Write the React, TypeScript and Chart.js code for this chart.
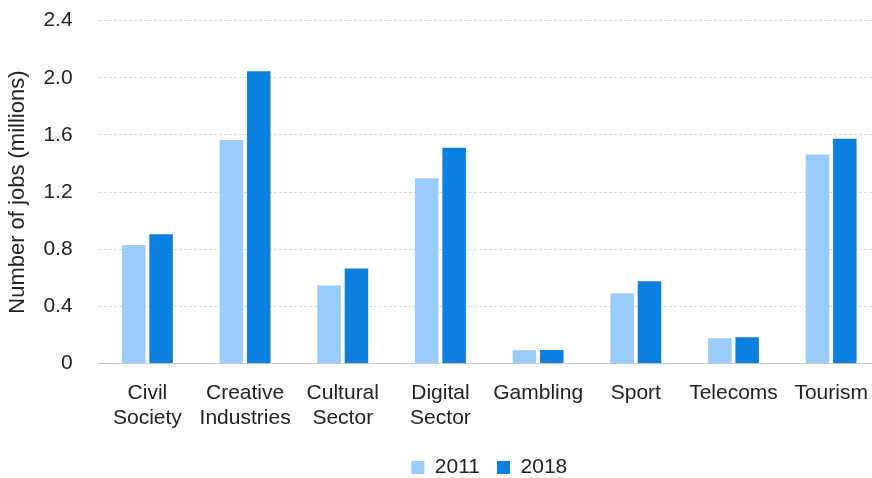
import React, { useEffect, useRef } from "react";
import { Chart, registerables } from "chart.js";

Chart.register(...registerables);

const categories: string[][] = [
  ["Civil", "Society"],
  ["Creative", "Industries"],
  ["Cultural", "Sector"],
  ["Digital", "Sector"],
  ["Gambling"],
  ["Sport"],
  ["Telecoms"],
  ["Tourism"],
];
const series2011: number[] = [0.83, 1.565, 0.546, 1.297, 0.093, 0.492, 0.177, 1.463];
const series2018: number[] = [0.905, 2.045, 0.665, 1.51, 0.096, 0.576, 0.184, 1.573];
const seriesNames: string[] = ["2011", "2018"];
const yTickLabels: string[] = ["0", "0.4", "0.8", "1.2", "1.6", "2.0", "2.4"];
const yAxisTitle = "Number of jobs (millions)";

export default function App() {
  const ref = useRef<HTMLCanvasElement | null>(null);

  useEffect(() => {
    if (!ref.current) return;
    const font = { family: "'Liberation Sans', Arial, sans-serif", size: 21 };
    const chart = new Chart(ref.current, {
      type: "bar",
      data: {
        labels: categories,
        datasets: [
          {
            label: seriesNames[0],
            data: series2011,
            backgroundColor: "#99CBFD",
            categoryPercentage: 0.56,
            barPercentage: 0.86,
          },
          {
            label: seriesNames[1],
            data: series2018,
            backgroundColor: "#0B80DF",
            categoryPercentage: 0.56,
            barPercentage: 0.86,
          },
        ],
      },
      options: {
        responsive: false,
        animation: false,
        maintainAspectRatio: false,
        layout: { padding: { top: 0, left: 11, right: 0, bottom: -10 } },
        plugins: {
          tooltip: { enabled: false },
          legend: {
            position: "bottom",
            fullSize: false,
            labels: {
              font,
              color: "#222",
              boxWidth: 13,
              boxHeight: 13,
              padding: 17,
            },
          },
        },
        scales: {
          x: {
            grid: { display: false },
            border: { display: true, color: "#c8c8c8", width: 1 },
            ticks: { font, color: "#222", padding: 9, maxRotation: 0, autoSkip: false },
          },
          y: {
            min: 0,
            max: 2.4,
            border: { display: false, dash: [3, 2] },
            grid: { color: "#dadada", lineWidth: 1, drawTicks: false },
            ticks: {
              stepSize: 0.4,
              font,
              color: "#222",
              padding: 26,
              callback: (_v: any, i: number) => yTickLabels[i],
            },
            title: {
              display: true,
              text: yAxisTitle,
              font: { ...font, size: 22 },
              color: "#222",
              padding: { top: 2, bottom: -14 },
            },
          },
        },
      },
    });
    return () => chart.destroy();
  }, []);

  return (
    <div style={{ position: "fixed", left: 0, top: 0, width: 872, height: 478, overflow: "hidden", background: "#fff" }}>
      <canvas
        ref={ref}
        width={888}
        height={496}
        style={{ width: 888, height: 496, display: "block", marginLeft: -8, marginTop: -18 }}
      />
    </div>
  );
}
